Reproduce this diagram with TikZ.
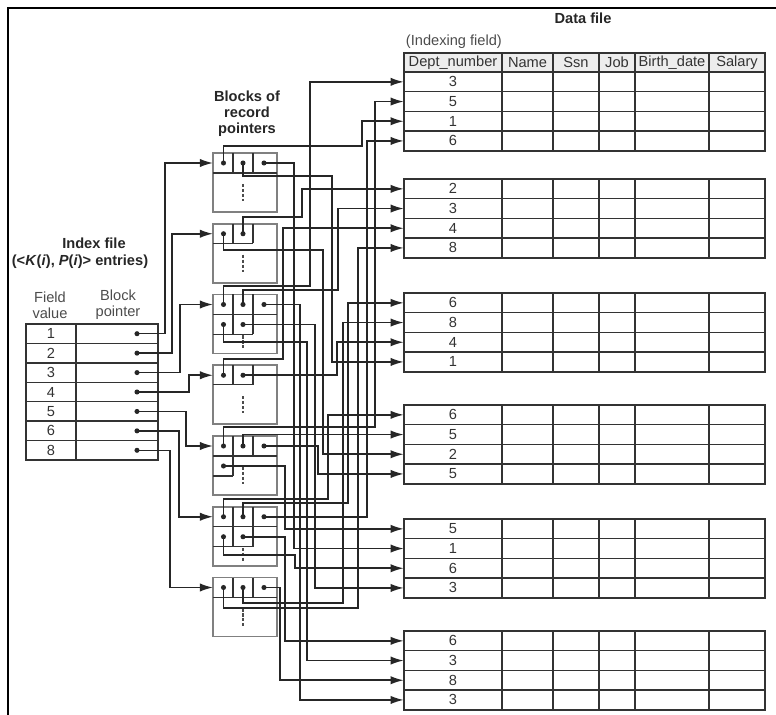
\documentclass[tikz,border=0pt]{standalone}
\usepackage{fontspec}
\setmainfont{Liberation Sans}
\usetikzlibrary{arrows.meta, calc}

\begin{document}
\begin{tikzpicture}[
  x=0.025cm, y=-0.025cm,
  font=\fontsize{10.4}{12}\selectfont,
  wire/.style={line width=1.1pt, draw=black!85},
  ptr/.style={wire, -{Latex[length=3.3mm, width=2.1mm]}},
  tblline/.style={line width=1pt, draw=black!80},
  blkframe/.style={line width=1.4pt, draw=black!50},
  vdash/.style={line width=1.2pt, draw=black!70, dash pattern=on 2.2pt off 1.3pt},
  ptrdot/.style={circle, fill=black!85, inner sep=0pt, minimum size=3.6pt},
  rec/.style={inner sep=0pt, minimum width=2.45cm, minimum height=0.4925cm, text=black!80},
  title/.style={font=\fontsize{10.4}{11.4}\selectfont\bfseries, text=black!85, align=center},
  colname/.style={font=\fontsize{10.4}{11.4}\selectfont, text=black!70, align=center}
]
  \useasboundingbox (0,0) rectangle (776,715);
  \draw[line width=1.3pt] (8,715) -- (8,8) -- (776,8);

  % data file
  \node[title] (dftitle) at (583,18) {Data file};
  \node[colname, anchor=west] (idxfield) at (401,42) {(Indexing field)};
  \fill[black!7] (404,53) rectangle (765,72);
  \draw[tblline] (404,53) rectangle (765,72);
  \foreach \x in {502,553,599,635,709} \draw[tblline] (\x,53) -- (\x,72);
  \foreach \x/\txt [count=\i] in {453/Dept\_number, 527.5/Name, 576/Ssn, 617/Job, 672/Birth\_date, 737/Salary}
    \node[text=black!80] (hd\i) at (\x,62.5) {\txt};

  \foreach \b/\ty/\va/\vb/\vc/\vd in {1/72/3/5/1/6, 2/179/2/3/4/8, 3/293/6/8/4/1, 4/405/6/5/2/5, 5/519/5/1/6/3, 6/631/6/3/8/3} {
    \draw[tblline] (404,\ty) rectangle (765,\ty+78.8);
    \foreach \y in {19.7,39.4,59.1} \draw[tblline] (404,\ty+\y) -- (765,\ty+\y);
    \foreach \x in {502,553,599,635,709} \draw[tblline] (\x,\ty) -- (\x,\ty+78.8);
    \node[rec] (r\b-1) at (453,\ty+9.85) {\va};
    \node[rec] (r\b-2) at (453,\ty+29.55) {\vb};
    \node[rec] (r\b-3) at (453,\ty+49.25) {\vc};
    \node[rec] (r\b-4) at (453,\ty+68.95) {\vd};
  }

  % blocks of record pointers
  \node[title] (bltitle) at (247,114) {Blocks of\\record\\pointers};
  \foreach \k/\nc/\nd in {1/3/0, 2/2/0, 3/3/2, 4/2/0, 5/3/1, 6/3/2, 7/3/0} {
    \pgfmathsetmacro\tp{153+70.75*(\k-1)}
    \draw[blkframe] (213,\tp) rectangle (277,\tp+59);
    \coordinate (in\k) at (213,\tp+10);
    \ifnum\nc=3
      \draw[tblline] (213,\tp+20) -- (277,\tp+20) (233,\tp) -- (233,\tp+20) (253,\tp) -- (253,\tp+20);
    \else
      \draw[tblline] (213,\tp+19.5) -- (253,\tp+19.5) (233,\tp) -- (233,\tp+19.5) (253,\tp) -- (253,\tp+19.5);
    \fi
    \ifnum\nd=2
      \draw[tblline] (233,\tp+20) -- (233,\tp+40) (253,\tp+20) -- (253,\tp+40) (213,\tp+40) -- (253,\tp+40);
      \draw[vdash] (243,\tp+41) -- (243,\tp+55);
    \else
      \draw[vdash] (243,\tp+31) -- (243,\tp+48);
    \fi
    \ifnum\nd=1
      \draw[tblline] (233,\tp+20) -- (233,\tp+40) (213,\tp+40) -- (233,\tp+40);
    \fi
    \node[ptrdot] (p\k-1) at (223.5,\tp+10) {};
    \node[ptrdot] (p\k-2) at (243,\tp+10) {};
    \ifnum\nc=3 \node[ptrdot] (p\k-3) at (264,\tp+10) {}; \fi
    \ifnum\nd>0 \node[ptrdot] (p\k-4) at (223.5,\tp+30) {}; \fi
    \ifnum\nd>1 \node[ptrdot] (p\k-5) at (243,\tp+30) {}; \fi
  }

  % index file
  \node[title] (ixtitle) at (94,243) {Index file};
  \node[title] (ixsub) at (80,262) {(<\textit{K}(\textit{i}), \textit{P}(\textit{i})> entries)};
  \node[colname] (fvlbl) at (50,305) {Field\\value};
  \node[colname] (bplbl) at (118,305) {Block\\pointer};
  \draw[tblline] (26,324) rectangle (158,460) (76,324) -- (76,460);
  \foreach \v [count=\i] in {1,2,3,4,5,6,8} {
    \pgfmathsetmacro\yc{324+19.43*(\i-0.5)}
    \node[text=black!80] (idx\i) at (51,\yc) {\v};
    \node[ptrdot] (ip\i) at (137,\yc) {};
    \ifnum\i<7 \draw[tblline] (26,324+19.43*\i) -- (158,324+19.43*\i); \fi
  }

  % index entries to blocks
  \foreach \i/\cx in {1/165, 2/172, 3/180, 4/189, 5/186, 6/179, 7/170}
    \draw[ptr] (ip\i.center) -- (ip\i -| \cx,0) |- (in\i);

  % record pointers leaving up or down
  \foreach \src/\ye/\cx/\dst in {1-1/146/362/1-3, 1-2/176/332/3-4, 2-1/250/323/4-3, 2-2/217/302/2-1,
      3-1/286/310/1-1, 3-2/290/338/2-2, 3-4/342/307/6-2, 4-1/359/283/2-3, 5-1/427/375/1-2,
      6-1/499/328/4-1, 6-2/503/348/3-1, 6-4/555/295/5-3, 7-1/608/358/2-4, 7-2/603/343/3-2}
    \draw[ptr] (p\src.center) |- (\cx,\ye) |- (r\dst.west);

  % record pointers leaving sideways
  \foreach \src/\cx/\dst in {1-3/294/5-2, 3-3/300/6-4, 3-5/315/5-4, 4-2/337/3-3, 5-3/318/4-4,
      5-4/285/5-1, 6-3/367/1-4, 6-5/285/6-1, 7-3/280/6-3}
    \draw[ptr] (p\src.center) -- (p\src -| \cx,0) |- (r\dst.west);

  \draw[ptr] (p5-2.center) |- (r4-2.west);
\end{tikzpicture}
\end{document}
